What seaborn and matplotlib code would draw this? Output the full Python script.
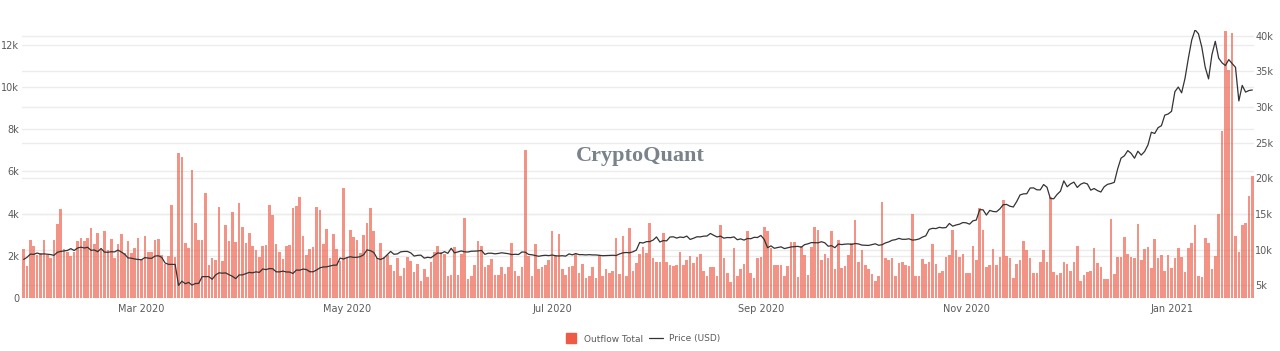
import numpy as np
import pandas as pd
import seaborn as sns
import matplotlib.pyplot as plt
from matplotlib.lines import Line2D

## daily values, 2020-01-26 .. 2021-01-25
start_date = "2020-01-26"
end_date = "2021-01-25"

outflow_total = [
    2300, 1500, 2750, 2450, 2050, 2150, 2750, 2050, 1900, 2750, 3500, 4200, 2300, 2200, 2000, 2200, 2700, 2850, 2700, 2850,
    3300, 2550, 3100, 2250, 3150, 2250, 2800, 1900, 2550, 3050, 2150, 2700, 2150, 2350, 2850, 1850, 2950, 2200, 2200, 2750,
    2800, 2050, 1600, 2000, 4400, 1950, 6850, 6700, 2600, 2350, 6050, 3550, 2750, 2750, 4950, 1550, 1900, 1800, 4300,
    1750, 3450, 2700, 4050, 2650, 4500, 3350, 2600, 3100, 2450, 2250, 1950, 2450, 2500, 4400, 3950, 2550, 2200, 1850, 2450,
    2500, 4250, 4350, 4800, 2950, 2050, 2300, 2400, 4300, 4150, 2550, 3250, 1900, 3050, 2300,
    1750, 5200, 1900, 3200, 2900, 2750, 2150, 3000, 3550, 4250, 3150, 1900, 2600, 1950, 2050, 1550, 1300, 1900, 1050, 1400,
    1950, 1750, 1250, 1600,
    800, 1350, 1000, 1700, 2200, 2450, 2200, 2100, 1050, 1100, 2400, 1100, 2100, 3800, 900, 1050, 1550, 2700, 2450, 1450,
    1550, 1850, 1100, 1100, 1450, 1150, 1450, 2600, 1300, 1050, 1450, 7000, 2000, 1050, 2550, 1350, 1450, 1550, 1800, 3150,
    2050, 3050, 1350, 1100, 1450, 1500, 2100, 1200, 1600, 950, 1050, 1450, 950, 2050, 1050, 1350, 1200, 1300, 2850,
    1150, 2950, 1050, 3300, 1300, 1650, 2100, 2400, 2150, 3550, 1900, 1700, 1700, 3100, 1700, 1550, 1500, 1550, 2200, 1550,
    1800, 2000, 1650, 1950, 2100, 1300, 1050, 1450, 1450, 1050, 3450, 1900, 1200, 750, 2350, 1050, 1350, 1600, 3150, 1200,
    950, 1900, 1950, 3350, 3150, 2350, 1550, 1550, 1550, 1050, 1500, 2650, 2650, 1000, 2450, 2050, 1100, 2400, 3350, 3200,
    1800, 2100, 1900, 3150, 1350, 2750, 1400, 1500, 2050, 2600, 3700, 1700, 2250, 1550, 1350, 1150, 800, 1050, 4550, 1900,
    1800, 1900, 1050, 1650, 1700, 1550, 1500, 4000, 1050, 1050, 1850, 1600, 1700, 2550, 1600, 1200, 1300, 1950, 2050, 3200,
    2250, 1950, 2100, 1200, 1200, 2450, 1800, 4250, 3200, 1450, 1550, 2300, 1550, 1950, 4650, 2000, 1900, 950, 1600,
    1800, 2700, 2250, 1900, 1200, 1200, 1700, 2250, 1700, 4800, 1250, 1100, 1200, 1700, 1600, 1300, 1700, 2450, 800, 1100,
    1250, 1300, 2350, 1650, 1450, 900, 900, 3750, 1150, 1950, 1950, 2900, 2100, 1950, 1900, 3500, 1800, 2300, 2400, 1400,
    2800, 1900, 2050, 1300, 2050, 1400, 1900, 2350, 1950, 1250, 2350, 2600, 3450, 1050, 1000, 2850, 2600, 1350, 2000, 4000,
    7900, 12650, 10800, 12550, 2950, 2200, 3450, 3550, 4850, 5800,
]

price_usd = [
    # Jan 2020 (26-31)
    8600, 8910, 9360, 9320, 9510, 9350,
    # Feb
    9390, 9340, 9290, 9180, 9610, 9730, 9800, 9870, 10120, 9860, 10210, 10330, 10210, 10310, 9890, 9930, 9690, 10140,
    9630, 9610, 9690, 9660, 9920, 9650, 9340, 8820, 8780, 8670, 8600,
    # Mar
    8560, 8870, 8790, 8760, 9080, 9120, 8910, 8110, 7920, 7910, 7910, 4970, 5560, 5200, 5390, 5010, 5230, 5240, 6190,
    6200, 6190, 5830, 6420, 6730, 6680, 6720, 6470, 6240, 5920, 6430, 6440,
    # Apr
    6610, 6790, 6730, 6870, 6790, 7270, 7180, 7330, 7300, 6870, 6860, 6970, 6850, 6840, 6640, 7120, 7100, 7260, 7190,
    6880, 6880, 7120, 7430, 7550, 7570, 7680, 7800, 7810, 8800, 8660,
    # May
    8860, 8990, 8900, 8910, 9000, 9270, 9950, 9840, 9590, 8760, 8600, 8800, 9270, 9730, 9330, 9380, 9670, 9730, 9730,
    9520, 9080, 9180, 9210, 8790, 8910, 8840, 9180, 9530, 9440, 9700, 9460,
    # Jun
    10170, 9530, 9660, 9800, 9670, 9650, 9760, 9770, 9800, 9870, 9320, 9480, 9480, 9390, 9450, 9540, 9480, 9410, 9290,
    9330, 9300, 9650, 9630, 9310, 9260, 9160, 9050, 9140, 9190, 9140,
    # Jul
    9230, 9120, 9090, 9130, 9070, 9380, 9250, 9430, 9280, 9280, 9240, 9280, 9240, 9240, 9190, 9130, 9150, 9160, 9190,
    9160, 9370, 9530, 9580, 9540, 9680, 9910, 10990, 10910, 11100, 11110, 11320,
    # Aug
    11760, 11050, 11250, 11210, 11750, 11780, 11600, 11750, 11680, 11880, 11410, 11580, 11780, 11770, 11870, 11890,
    12250, 11990, 11760, 11880, 11590, 11680, 11660, 11770, 11370, 11490, 11320, 11540, 11510, 11710, 11680,
    # Sep
    11970, 11410, 10250, 10510, 10170, 10280, 10370, 10130, 10240, 10360, 10400, 10440, 10320, 10680, 10800, 10970,
    10950, 10940, 11090, 10940, 10460, 10540, 10250, 10760, 10690, 10750, 10780, 10710, 10840, 10780,
    # Oct
    10620, 10590, 10570, 10680, 10800, 10590, 10670, 10920, 11070, 11300, 11380, 11560, 11430, 11430, 11500, 11320,
    11360, 11480, 11740, 11920, 12820, 12970, 12930, 13110, 13030, 13080, 13650, 13270, 13440, 13550, 13780,
    # Nov
    13740, 13550, 14020, 14130, 15580, 15570, 14830, 15480, 15330, 15290, 15700, 16280, 16320, 16070, 15960, 16720,
    17650, 17800, 17820, 18620, 18640, 18370, 18360, 19110, 18730, 17150, 17110, 17720, 18180, 19630,
    # Dec
    18800, 19200, 19450, 18700, 19150, 19350, 19190, 18320, 18550, 18260, 18060, 18800, 19140, 19250, 19420, 21310,
    22810, 23140, 23870, 23480, 22800, 23780, 23240, 23740, 24660, 26440, 26270, 27080, 27360, 28840, 29000,
    # Jan 2021 (1-25)
    29370, 32130, 32780, 31970, 33990, 36820, 39370, 40800, 40250, 38360, 35570, 33920, 37320, 39190, 36830, 36180,
    35790, 36630, 36070, 35550, 30830, 33010, 32070, 32290, 32370,
]

left_ticks = [0, 2000, 4000, 6000, 8000, 10000, 12000]
left_labels = ["0", "2k", "4k", "6k", "8k", "10k", "12k"]
right_ticks = [5000, 10000, 15000, 20000, 25000, 30000, 35000, 40000]
right_labels = ["5k", "10k", "15k", "20k", "25k", "30k", "35k", "40k"]

dates = pd.date_range(start_date, end_date, freq="D")
df = pd.DataFrame({"date": dates, "outflow": outflow_total, "price": price_usd})
df["pos"] = np.arange(len(df))

sns.set_style("white")
plt.rcParams["font.family"] = ["DejaVu Sans"]

bar_color = "#ee5a45"
tick_color = "#5a5a5a"
grid_color = "#ececec"
tick_size = 7

fig = plt.figure(figsize=(12.8, 3.51), dpi=100)
ax = fig.add_axes([22 / 1280, 0.151, 1232 / 1280, 0.764])
ax_grid = ax.twinx()   # only for the right-axis gridlines, sits behind the bars
ax_price = ax.twinx()

ax.set_zorder(2)
ax.patch.set_visible(False)
ax_grid.set_zorder(1)
ax_price.set_zorder(3)

sns.barplot(data=df, x="pos", y="outflow", color=bar_color, saturation=1, alpha=0.65,
            width=0.78, linewidth=0, ax=ax)
sns.lineplot(data=df, x="pos", y="price", color="#333333", linewidth=0.9, ax=ax_price)

n = len(df)
for a in (ax, ax_grid, ax_price):
    a.set_xlim(-0.5, n - 0.5)
    for s in a.spines.values():
        s.set_visible(False)
    a.set_xlabel("")
    a.set_ylabel("")

ax.set_ylim(0, 12700)
ax.set_yticks(left_ticks)
ax.set_yticklabels(left_labels)
ax.yaxis.grid(True, color=grid_color, linewidth=1)
ax.set_axisbelow(True)

ax_grid.set_ylim(3200, 40800)
ax_grid.set_yticks(right_ticks)
ax_grid.yaxis.grid(True, color=grid_color, linewidth=1)
ax_grid.tick_params(right=False, labelright=False, length=0)

ax_price.set_ylim(3200, 40800)
ax_price.set_yticks(right_ticks)
ax_price.set_yticklabels(right_labels)
ax_price.grid(False)
ax_price.tick_params(axis="y", length=0, pad=1, labelsize=tick_size, labelcolor=tick_color)

month_rows = df[(df["date"].dt.day == 1) & (df["date"].dt.month % 2 == 1)]
ax.set_xticks(month_rows["pos"].tolist())
ax.set_xticklabels(month_rows["date"].dt.strftime("%b %Y").tolist())
ax.tick_params(axis="both", length=0, labelsize=tick_size, labelcolor=tick_color)
ax.tick_params(axis="y", pad=2)
ax.tick_params(axis="x", pad=4)
ax_price.tick_params(axis="x", bottom=False, labelbottom=False)
ax_grid.tick_params(axis="x", bottom=False, labelbottom=False)

fig.text(640 / 1280, 1 - 156 / 351, "CryptoQuant", family="Liberation Serif", fontsize=16,
         fontweight="bold", color="#7a828c", ha="center", va="center")

handles = [Line2D([0], [0], marker="s", linestyle="none", markersize=7,
                  color=bar_color, label="Outflow Total"),
           Line2D([0], [0], color="#333333", linewidth=0.9, label="Price (USD)")]
fig.legend(handles=handles, loc="center", bbox_to_anchor=(642 / 1280, 1 - 339 / 351), ncol=2,
           frameon=False, fontsize=6.5, handlelength=1.6, columnspacing=0.6,
           handletextpad=0.6, labelcolor=tick_color)

fig.savefig("out.png", dpi=100)
